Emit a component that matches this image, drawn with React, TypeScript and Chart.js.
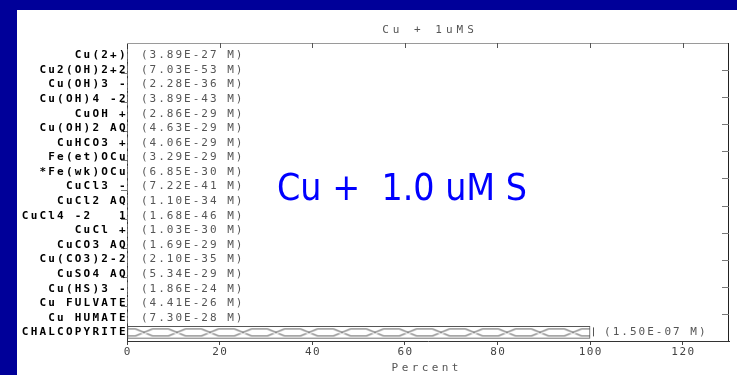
import React, { useEffect, useRef } from 'react';
import { Chart, registerables } from 'chart.js';

Chart.register(...registerables);

const chartTitle = 'Cu + 1uMS';
const overlayText = 'Cu +  1.0 uM S';
const axisTitle = 'Percent';

const species = [
  'Cu(2+)',
  'Cu2(OH)2+2',
  'Cu(OH)3 -',
  'Cu(OH)4 -2',
  'CuOH +',
  'Cu(OH)2 AQ',
  'CuHCO3 +',
  'Fe(et)OCu',
  '*Fe(wk)OCu',
  'CuCl3 -',
  'CuCl2 AQ',
  'CuCl4 -2   1',
  'CuCl +',
  'CuCO3 AQ',
  'Cu(CO3)2-2',
  'CuSO4 AQ',
  'Cu(HS)3 -',
  'Cu FULVATE',
  'Cu HUMATE',
  'CHALCOPYRITE',
];

const molarities = [
  '3.89E-27',
  '7.03E-53',
  '2.28E-36',
  '3.89E-43',
  '2.86E-29',
  '4.63E-29',
  '4.06E-29',
  '3.29E-29',
  '6.85E-30',
  '7.22E-41',
  '1.10E-34',
  '1.68E-46',
  '1.03E-30',
  '1.69E-29',
  '2.10E-35',
  '5.34E-29',
  '1.86E-24',
  '4.41E-26',
  '7.30E-28',
  '1.50E-07',
];

const percents = [0, 0, 0, 0, 0, 0, 0, 0, 0, 0, 0, 0, 0, 0, 0, 0, 0, 0, 0, 100];

const xTickValues = [0, 20, 40, 60, 80, 100, 120];
const xMax = 130;
const yMin = -0.85;
const yMax = 19.59;

const MONO = '"DejaVu Sans Mono", "Liberation Mono", monospace';

function spacedText(
  ctx: CanvasRenderingContext2D,
  text: string,
  x: number,
  y: number,
  spacing: number,
  align: CanvasTextAlign
) {
  (ctx as any).letterSpacing = spacing + 'px';
  ctx.textAlign = align;
  let dx = 0;
  if (align === 'right') dx = spacing;
  else if (align === 'center') dx = spacing / 2;
  ctx.fillText(text, x + dx, y);
  (ctx as any).letterSpacing = '0px';
}

function makePattern(ctx: CanvasRenderingContext2D): CanvasPattern | null {
  const tile = document.createElement('canvas');
  tile.width = 33;
  tile.height = 12;
  const g = tile.getContext('2d')!;
  g.fillStyle = '#ffffff';
  g.fillRect(0, 0, 33, 12);
  g.strokeStyle = '#666666';
  g.lineWidth = 1.2;
  g.beginPath();
  g.moveTo(0, 2.5);
  g.lineTo(8, 2.5);
  g.moveTo(25, 2.5);
  g.lineTo(33, 2.5);
  g.moveTo(0, 9.5);
  g.lineTo(8, 9.5);
  g.moveTo(25, 9.5);
  g.lineTo(33, 9.5);
  g.moveTo(8, 2.5);
  g.lineTo(25, 9.5);
  g.moveTo(8, 9.5);
  g.lineTo(25, 2.5);
  g.stroke();
  return ctx.createPattern(tile, 'repeat');
}

export default function App() {
  const canvasRef = useRef<HTMLCanvasElement | null>(null);

  useEffect(() => {
    const canvas = canvasRef.current;
    if (!canvas) return;
    const ctx0 = canvas.getContext('2d')!;
    const pattern = makePattern(ctx0);

    const decor = {
      id: 'decor',
      beforeDatasetsDraw(chart: any) {
        const meta = chart.getDatasetMeta(0);
        meta.data.forEach((bar: any, i: number) => {
          if (percents[i] > 0 && pattern && (pattern as any).setTransform) {
            const p = bar.getProps(['x', 'y', 'base', 'height'], true);
            pattern.setTransform(new DOMMatrix().translate(p.base, p.y - p.height / 2));
          }
        });
      },
      afterDraw(chart: any) {
        const ctx: CanvasRenderingContext2D = chart.ctx;
        const area = chart.chartArea;
        const xs = chart.scales.x;
        const ys = chart.scales.y;
        ctx.save();

        // frame: top and right
        ctx.lineWidth = 1;
        ctx.strokeStyle = '#9a9a9a';
        ctx.beginPath();
        ctx.moveTo(area.left, area.top + 0.5);
        ctx.lineTo(area.right, area.top + 0.5);
        ctx.stroke();
        ctx.strokeStyle = '#222222';
        ctx.beginPath();
        ctx.moveTo(area.right - 0.5, area.top);
        ctx.lineTo(area.right - 0.5, area.bottom);
        ctx.stroke();

        // top inner ticks
        ctx.strokeStyle = '#555555';
        ctx.beginPath();
        xTickValues.forEach((v) => {
          if (v === 0) return;
          const px = Math.round(xs.getPixelForValue(v)) + 0.5;
          ctx.moveTo(px, area.top);
          ctx.lineTo(px, area.top + 5);
        });
        ctx.stroke();

        // right inner ticks
        ctx.strokeStyle = '#777777';
        ctx.beginPath();
        for (let k = 1; k <= 10; k++) {
          const py = Math.round(area.top + (k * (area.bottom - area.top)) / 11) + 0.5;
          ctx.moveTo(area.right - 7, py);
          ctx.lineTo(area.right, py);
        }
        ctx.stroke();

        // left outer ticks on alternate rows
        ctx.beginPath();
        species.forEach((_, i) => {
          if (i % 2 === 1 && i < species.length - 1) {
            const py = Math.round(ys.getPixelForValue(i) + 3) + 0.5;
            ctx.moveTo(area.left - 6, py);
            ctx.lineTo(area.left, py);
          }
        });
        ctx.stroke();

        // category labels
        ctx.textBaseline = 'middle';
        ctx.fillStyle = '#000000';
        ctx.font = 'bold 11px ' + MONO;
        species.forEach((name, i) => {
          spacedText(ctx, name, area.left - 1.5, ys.getPixelForValue(i), 2.2, 'right');
        });

        // value labels
        ctx.fillStyle = '#555555';
        ctx.font = '11px ' + MONO;
        species.forEach((_, i) => {
          const end = xs.getPixelForValue(percents[i]);
          const py = ys.getPixelForValue(i);
          if (percents[i] > 0) {
            ctx.strokeStyle = '#555555';
            ctx.beginPath();
            ctx.moveTo(Math.round(end) + 3.5, py - 5);
            ctx.lineTo(Math.round(end) + 3.5, py + 4);
            ctx.stroke();
          }
          spacedText(ctx, '(' + molarities[i] + ' M)', end + 14, py, 2.0, 'left');
        });

        // x tick labels
        ctx.fillStyle = '#444444';
        ctx.font = '11px ' + MONO;
        xTickValues.forEach((v) => {
          spacedText(ctx, String(v), xs.getPixelForValue(v), area.bottom + 11, 1.4, 'center');
        });

        // axis title
        ctx.fillStyle = '#555555';
        spacedText(ctx, axisTitle, (area.left + area.right) / 2 - 3, area.bottom + 27, 3.4, 'center');

        // chart title
        spacedText(ctx, chartTitle, (area.left + area.right) / 2, 20, 4, 'center');

        // overlay
        ctx.font = '38px "DejaVu Sans", Verdana, sans-serif';
        ctx.textAlign = 'left';
        ctx.textBaseline = 'alphabetic';
        const w = ctx.measureText(overlayText).width;
        ctx.translate(260, 190);
        ctx.scale(250 / w, 1);
        ctx.fillStyle = '#0000ff';
        ctx.fillText(overlayText, 0, 0);

        ctx.restore();
      },
    };

    const chart = new Chart(canvas, {
      type: 'bar',
      data: {
        datasets: [
          {
            data: percents.map((v, i) => ({ x: v, y: i })),
            backgroundColor: pattern || '#ffffff',
            borderColor: '#555555',
            borderWidth: (c: any) => (c.raw && c.raw.x > 0 ? 1 : 0),
            borderSkipped: false,
            barThickness: 12,
          },
        ],
      },
      options: {
        indexAxis: 'y',
        responsive: false,
        animation: false,
        events: [],
        layout: { padding: { top: 33, right: 8, left: 0, bottom: 0 } },
        plugins: {
          legend: { display: false },
          title: { display: false },
          tooltip: { enabled: false },
        },
        scales: {
          x: {
            type: 'linear',
            position: 'bottom',
            bounds: 'data',
            offset: false,
            min: 0,
            max: xMax,
            ticks: { display: false, stepSize: 20 },
            grid: {
              offset: false,
              drawOnChartArea: false,
              drawTicks: true,
              tickLength: 4,
              tickColor: '#444444',
            },
            border: { display: true, color: '#333333', width: 1 },
            afterBuildTicks: (s: any) => {
              s.ticks = s.ticks.filter((t: any) => xTickValues.includes(t.value));
            },
            afterFit: (s: any) => {
              s.height = 34;
            },
          },
          y: {
            type: 'linear',
            reverse: true,
            bounds: 'data',
            offset: false,
            min: yMin,
            max: yMax,
            ticks: { display: false },
            grid: { display: false, offset: false },
            border: { display: true, color: '#333333', width: 1 },
            afterFit: (s: any) => {
              s.width = 110;
            },
          },
        },
      },
      plugins: [decor],
    } as any);

    return () => chart.destroy();
  }, []);

  return (
    <div
      style={{
        position: 'absolute',
        left: 0,
        top: 0,
        width: 737,
        height: 375,
        background: '#000099',
        overflow: 'hidden',
      }}
    >
      <div
        style={{
          position: 'absolute',
          left: 17,
          top: 10,
          width: 720,
          height: 365,
          background: '#ffffff',
        }}
      >
        <canvas ref={canvasRef} width={720} height={365} style={{ width: 720, height: 365, display: 'block' }} />
      </div>
    </div>
  );
}
